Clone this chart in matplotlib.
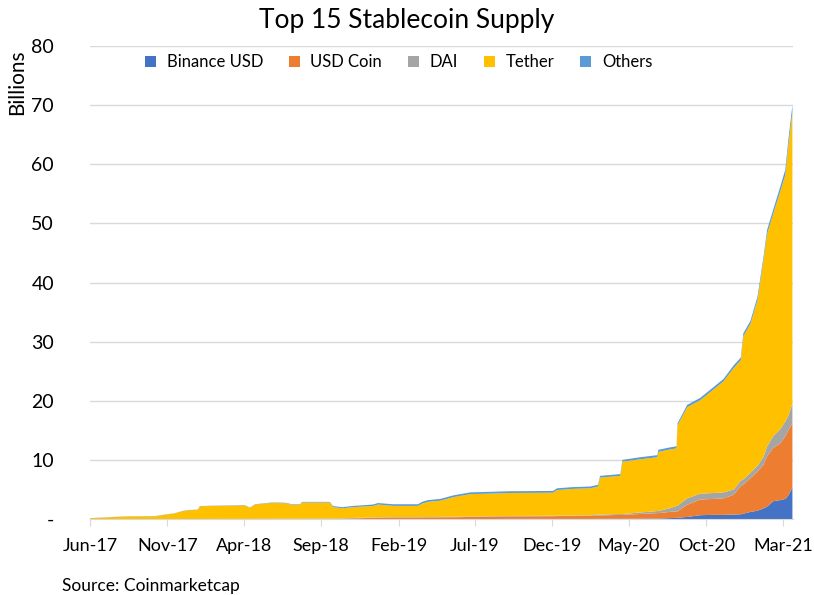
import matplotlib
matplotlib.use("Agg")
import matplotlib.pyplot as plt
import matplotlib.dates as mdates
import pandas as pd

plt.rcParams["font.family"] = ["Lato", "DejaVu Sans"]

# supply in billions
dates = [
    "2017-06-01", "2017-08-09", "2017-10-07", "2017-10-31", "2017-11-16", "2017-11-30",
    "2017-12-10", "2017-12-31", "2018-01-04", "2018-03-28", "2018-04-03", "2018-04-13",
    "2018-04-23", "2018-05-27", "2018-06-22", "2018-07-05", "2018-07-21", "2018-07-25",
    "2018-09-18", "2018-09-24", "2018-10-12", "2018-11-01", "2018-12-12", "2018-12-22",
    "2019-01-21", "2019-03-11", "2019-03-19", "2019-03-31", "2019-04-24", "2019-05-20",
    "2019-06-22", "2019-08-01", "2019-09-09", "2019-12-03", "2019-12-11", "2020-01-12",
    "2020-02-15", "2020-03-01", "2020-03-05", "2020-04-14", "2020-04-18", "2020-05-23",
    "2020-06-26", "2020-06-28", "2020-07-20", "2020-08-03", "2020-08-05", "2020-08-10",
    "2020-08-24", "2020-09-19", "2020-10-15", "2020-11-04", "2020-11-24", "2020-12-08",
    "2020-12-13", "2020-12-27", "2021-01-10", "2021-01-22", "2021-01-29", "2021-02-10",
    "2021-02-24", "2021-03-06", "2021-03-12", "2021-03-20",
]
binance_usd = [
    0, 0, 0, 0, 0, 0,
    0, 0, 0, 0, 0, 0,
    0, 0, 0, 0, 0, 0,
    0, 0, 0, 0, 0, 0,
    0, 0, 0, 0, 0, 0,
    0, 0, 0.02, 0.02, 0.02, 0.02,
    0.02, 0.03, 0.03, 0.03, 0.03, 0.05,
    0.08, 0.08, 0.15, 0.2, 0.2, 0.25,
    0.35, 0.65, 0.7, 0.7, 0.75, 0.8,
    0.9, 1.2, 1.4, 1.8, 2.1, 3.0,
    3.2, 3.4, 4.0, 5.3,
]
usd_coin = [
    0, 0, 0, 0, 0, 0,
    0, 0, 0, 0, 0, 0,
    0, 0, 0, 0, 0, 0,
    0.01, 0.02, 0.05, 0.1, 0.2, 0.22,
    0.25, 0.25, 0.26, 0.27, 0.28, 0.3,
    0.35, 0.4, 0.42, 0.45, 0.48, 0.48,
    0.5, 0.57, 0.57, 0.67, 0.67, 0.8,
    0.92, 0.92, 1.05, 1.1, 1.1, 1.35,
    2.05, 2.65, 2.7, 2.8, 3.35, 4.8,
    4.9, 5.7, 6.6, 7.4, 8.5, 9.0,
    9.6, 10.6, 11.0, 10.9,
]
dai = [
    0, 0, 0, 0, 0, 0,
    0, 0.01, 0.01, 0.02, 0.02, 0.02,
    0.03, 0.04, 0.05, 0.05, 0.05, 0.05,
    0.06, 0.06, 0.06, 0.07, 0.07, 0.07,
    0.07, 0.07, 0.07, 0.07, 0.08, 0.08,
    0.08, 0.08, 0.08, 0.08, 0.08, 0.08,
    0.1, 0.15, 0.15, 0.15, 0.15, 0.25,
    0.35, 0.35, 0.6, 0.9, 0.9, 1.0,
    1.1, 1.0, 1.0, 1.0, 0.9, 0.9,
    0.9, 0.9, 1.0, 1.3, 1.7, 2.0,
    2.4, 2.5, 2.5, 3.3,
]
tether = [
    0.13, 0.43, 0.47, 0.77, 0.97, 1.32,
    1.46, 1.55, 2.15, 2.28, 2.28, 1.88,
    2.42, 2.7, 2.62, 2.37, 2.37, 2.75,
    2.73, 1.97, 1.69, 1.83, 1.93, 2.16,
    1.9, 1.9, 2.27, 2.56, 2.74, 3.32,
    3.77, 3.82, 3.88, 3.9, 4.32, 4.52,
    4.58, 4.75, 6.25, 6.45, 8.85, 9.0,
    9.1, 10.0, 9.95, 9.75, 13.65, 14.05,
    15.4, 15.8, 17.5, 18.8, 20.55, 20.35,
    24.2, 25.2, 28.0, 33.3, 35.9, 37.6,
    40.2, 41.7, 45.6, 49.3,
]
others = [
    0.02, 0.02, 0.03, 0.03, 0.03, 0.03,
    0.04, 0.04, 0.04, 0.05, 0.05, 0.05,
    0.05, 0.06, 0.08, 0.08, 0.08, 0.1,
    0.1, 0.15, 0.2, 0.2, 0.25, 0.25,
    0.28, 0.28, 0.3, 0.3, 0.3, 0.3,
    0.3, 0.3, 0.3, 0.3, 0.3, 0.3,
    0.3, 0.3, 0.3, 0.3, 0.3, 0.35,
    0.35, 0.35, 0.35, 0.35, 0.35, 0.35,
    0.4, 0.4, 0.4, 0.4, 0.45, 0.45,
    0.5, 0.5, 0.6, 0.6, 0.7, 0.7,
    0.8, 0.9, 1.0, 1.2,
]

labels = ["Binance USD", "USD Coin", "DAI", "Tether", "Others"]
colors = ["#4472C4", "#ED7D31", "#A5A5A5", "#FFC000", "#5B9BD5"]
tick_dates = ["2017-06-01", "2017-11-01", "2018-04-01", "2018-09-01", "2019-02-01",
              "2019-07-01", "2019-12-01", "2020-05-01", "2020-10-01", "2021-03-01"]

x = pd.to_datetime(dates)

fig = plt.figure(figsize=(8.14, 5.95), dpi=100)
ax = fig.add_axes([0.1106, 0.1277, 0.8635, 0.795])

ax.stackplot(x, binance_usd, usd_coin, dai, tether, others,
             colors=colors, labels=labels, linewidth=0)

ax.set_ylim(0, 80)
ax.set_yticks(range(0, 81, 10))
ax.set_yticklabels(["-"] + [str(v) for v in range(10, 81, 10)])
ax.set_xlim(pd.Timestamp("2017-06-01"), pd.Timestamp("2021-03-21"))
ax.set_xticks(pd.to_datetime(tick_dates))
ax.xaxis.set_major_formatter(mdates.DateFormatter("%b-%y"))

ax.grid(axis="y", color="#D9D9D9", linewidth=1)
ax.set_axisbelow(True)
for s in ["top", "right", "left"]:
    ax.spines[s].set_visible(False)
ax.spines["bottom"].set_color("#D9D9D9")
ax.tick_params(axis="y", length=0, labelsize=14, pad=26, colors="black")
ax.tick_params(axis="x", length=5, color="#D9D9D9", labelsize=13, pad=9)

ax.set_ylabel("Billions", fontsize=15)
ax.yaxis.set_label_coords(-0.09, 0.924)
fig.text(0.5, 0.966, "Top 15 Stablecoin Supply", fontsize=19, ha="center", va="center")

ax.legend(loc="center", bbox_to_anchor=(0.439, 0.966), ncols=5, frameon=False,
          fontsize=12, handlelength=0.65, handleheight=0.65, columnspacing=1.55,
          handletextpad=0.65)

fig.text(0.076, 0.006, "Source: Coinmarketcap", fontsize=12.5)

fig.savefig("out.png", dpi=100)
